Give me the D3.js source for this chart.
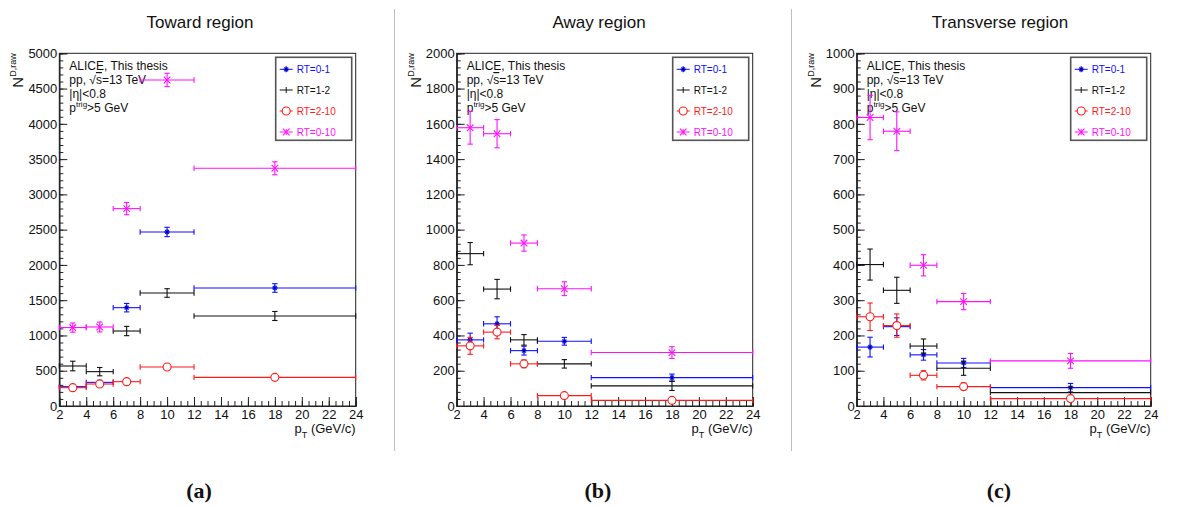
<!DOCTYPE html>
<html>
<head>
<meta charset="utf-8">
<script src="https://cdn.jsdelivr.net/npm/d3@7"></script>
<style>
  html, body { margin: 0; padding: 0; background: #fff; }
  svg { display: block; }
  text { font-family: "Liberation Sans", Arial, Helvetica, sans-serif; }
</style>
</head>
<body>
<svg id="chart" width="1184" height="506"></svg>
<script>
// pT bins (GeV/c)
const binLow = [2, 4, 6, 8, 12];
const binHigh = [4, 6, 8, 12, 24];
const binCenter = [3, 5, 7, 10, 18];

const xTicks = [2, 4, 6, 8, 10, 12, 14, 16, 18, 20, 22, 24];

const seriesNames = ["RT=0-1", "RT=1-2", "RT=2-10", "RT=0-10"];
const seriesColors = ["#1010ff", "#111111", "#ff1a1a", "#ff10ff"];
const seriesMarkers = ["star", "none", "circle", "cross"];

// Toward region
const towardRT01 = [274, 335, 1394, 2467, 1673];
const towardRT01Err = [25, 30, 60, 66, 61];
const towardRT12 = [567, 487, 1063, 1602, 1276];
const towardRT12Err = [68, 59, 66, 61, 64];
const towardRT210 = [260, 312, 345, 553, 406];
const towardRT210Err = [22, 22, 20, 25, 20];
const towardRT010 = [1112, 1120, 2798, 4622, 3370];
const towardRT010Err = [65, 70, 87, 95, 92];

// Away region
const awayRT01 = [375, 466, 314, 367, 161];
const awayRT01Err = [38, 40, 25, 22, 20];
const awayRT12 = [864, 663, 375, 239, 114];
const awayRT12Err = [63, 55, 30, 24, 26];
const awayRT210 = [341, 419, 239, 59, 32];
const awayRT210Err = [48, 38, 22, 8, 6];
const awayRT010 = [1578, 1544, 924, 665, 303];
const awayRT010Err = [93, 80, 46, 39, 33];

// Transverse region
const transRT01 = [167, 225, 145, 122, 52];
const transRT01Err = [28, 25, 15, 13, 12];
const transRT12 = [401, 328, 170, 107, 38];
const transRT12Err = [44, 37, 20, 20, 16];
const transRT210 = [253, 228, 87, 55, 21];
const transRT210Err = [39, 33, 13, 10, 8];
const transRT010 = [818, 779, 399, 296, 128];
const transRT010Err = [63, 55, 30, 23, 21];

const panelTitles = ["Toward region", "Away region", "Transverse region"];
const panelCaptions = ["(a)", "(b)", "(c)"];
const yMax = [5000, 2000, 1000];
const yMajorStep = [500, 200, 100];

const panelValues = [
  [towardRT01, towardRT12, towardRT210, towardRT010],
  [awayRT01, awayRT12, awayRT210, awayRT010],
  [transRT01, transRT12, transRT210, transRT010]
];
const panelErrors = [
  [towardRT01Err, towardRT12Err, towardRT210Err, towardRT010Err],
  [awayRT01Err, awayRT12Err, awayRT210Err, awayRT010Err],
  [transRT01Err, transRT12Err, transRT210Err, transRT010Err]
];
const legendLabels = seriesNames;

// ---- layout ----
const frameLeft = [59.3, 456.7, 856.7];
const frameRight = [355.7, 752.7, 1150.7];
const frameTop = 53.3;
const frameBottom = 406;
const titleX = [200, 599, 1000];
const separators = [394.5, 791.5];

const svg = d3.select("#chart");

// thin separators between the sub-figures
separators.forEach(sx => {
  svg.append("line")
    .attr("x1", sx).attr("x2", sx).attr("y1", 9).attr("y2", 451)
    .attr("stroke", "#bdbdbd").attr("stroke-width", 1);
});

function drawMarker(g, type, cx, cy, color) {
  if (type === "star") {
    const r = 2.8;
    [[r, 0], [0, r], [r * 0.7, r * 0.7], [r * 0.7, -r * 0.7]].forEach(([dx, dy]) => {
      g.append("line").attr("x1", cx - dx).attr("x2", cx + dx)
        .attr("y1", cy - dy).attr("y2", cy + dy)
        .attr("stroke", color).attr("stroke-width", 1.2);
    });
    g.append("circle").attr("cx", cx).attr("cy", cy).attr("r", 1.3).attr("fill", "#00007a");
  } else if (type === "circle") {
    g.append("circle").attr("cx", cx).attr("cy", cy).attr("r", 4)
      .attr("fill", "#fff").attr("stroke", color).attr("stroke-width", 1.1);
  } else if (type === "cross") {
    const r = 3.3;
    g.append("line").attr("x1", cx - r).attr("x2", cx + r).attr("y1", cy - r).attr("y2", cy + r)
      .attr("stroke", color).attr("stroke-width", 1.1);
    g.append("line").attr("x1", cx - r).attr("x2", cx + r).attr("y1", cy + r).attr("y2", cy - r)
      .attr("stroke", color).attr("stroke-width", 1.1);
  }
}

panelTitles.forEach((title, p) => {
  const x = d3.scaleLinear().domain([2, 24]).range([frameLeft[p], frameRight[p]]);
  const y = d3.scaleLinear().domain([0, yMax[p]]).range([frameBottom, frameTop]);
  const g = svg.append("g");

  // title
  g.append("text").attr("x", titleX[p]).attr("y", 28)
    .attr("text-anchor", "middle").attr("font-size", 17).attr("fill", "#111")
    .text(title);

  // caption
  g.append("text").attr("x", titleX[p] - 1).attr("y", 498)
    .attr("text-anchor", "middle").attr("font-size", 22).attr("font-weight", "bold")
    .style("font-family", "'Liberation Serif', 'DejaVu Serif', serif")
    .attr("fill", "#111").text(panelCaptions[p]);

  // frame
  g.append("rect").attr("x", frameLeft[p]).attr("y", frameTop)
    .attr("width", frameRight[p] - frameLeft[p]).attr("height", frameBottom - frameTop)
    .attr("fill", "none").attr("stroke", "#222").attr("stroke-width", 1);

  // x axis (ticks pointing into the frame)
  const xMinor = d3.range(2, 24.001, 0.5);
  const xAxisMinor = d3.axisBottom(x).tickValues(xMinor).tickSize(-5).tickFormat("");
  const xAxisMajor = d3.axisBottom(x).tickValues(xTicks).tickSize(-9).tickPadding(4)
    .tickFormat(d3.format("d"));
  const gxm = g.append("g").attr("transform", `translate(0,${frameBottom})`).call(xAxisMinor);
  const gx = g.append("g").attr("transform", `translate(0,${frameBottom})`).call(xAxisMajor);
  [gxm, gx].forEach(a => {
    a.select(".domain").attr("stroke", "#222");
    a.selectAll(".tick line").attr("stroke", "#222");
  });
  gx.selectAll(".tick text").attr("font-size", 13).attr("fill", "#111")
    .attr("font-family", "'Liberation Sans', Arial, sans-serif");

  // y axis
  const yMinorStep = yMajorStep[p] / 5;
  const yMinor = d3.range(0, yMax[p] + 0.001, yMinorStep);
  const yMajor = d3.range(0, yMax[p] + 0.001, yMajorStep[p]);
  const yAxisMinor = d3.axisLeft(y).tickValues(yMinor).tickSize(-4).tickFormat("");
  const yAxisMajor = d3.axisLeft(y).tickValues(yMajor).tickSize(-8).tickPadding(2)
    .tickFormat(d3.format("d"));
  const gym = g.append("g").attr("transform", `translate(${frameLeft[p]},0)`).call(yAxisMinor);
  const gy = g.append("g").attr("transform", `translate(${frameLeft[p]},0)`).call(yAxisMajor);
  [gym, gy].forEach(a => {
    a.select(".domain").attr("stroke", "#222");
    a.selectAll(".tick line").attr("stroke", "#222");
  });
  gy.selectAll(".tick text").attr("font-size", 13).attr("fill", "#111")
    .attr("font-family", "'Liberation Sans', Arial, sans-serif");

  // x axis title
  const xt = g.append("text").attr("x", frameRight[p]).attr("y", 433)
    .attr("text-anchor", "end").attr("font-size", 13).attr("fill", "#111");
  xt.append("tspan").text("p");
  xt.append("tspan").attr("font-size", 9).attr("dy", 5).text("T");
  xt.append("tspan").attr("dy", -5).text(" (GeV/c)");

  // y axis title
  const yt = g.append("text")
    .attr("transform", `translate(${frameLeft[p] - 36},${frameTop}) rotate(-90)`)
    .attr("text-anchor", "end").attr("font-size", 15).attr("fill", "#111");
  yt.append("tspan").text("N");
  yt.append("tspan").attr("font-size", 9).attr("dy", -7).text("D,raw");

  // label block
  const tx = frameLeft[p] + 10;
  const lines = [70, 84, 98, 112];
  g.append("text").attr("x", tx).attr("y", lines[0]).attr("font-size", 12).attr("fill", "#111")
    .text("ALICE, This thesis");
  const l2 = g.append("text").attr("x", tx).attr("y", lines[1]).attr("font-size", 12).attr("fill", "#111");
  l2.append("tspan").text("pp, \u221A");
  l2.append("tspan").style("text-decoration", "overline").text("s");
  l2.append("tspan").text("=13 TeV");
  g.append("text").attr("x", tx).attr("y", lines[2]).attr("font-size", 12).attr("fill", "#111")
    .text("|\u03B7|<0.8");
  const l4 = g.append("text").attr("x", tx).attr("y", lines[3]).attr("font-size", 12).attr("fill", "#111");
  l4.append("tspan").text("p");
  l4.append("tspan").attr("font-size", 8).attr("dy", -5).text("trig");
  l4.append("tspan").attr("dy", 5).text(">5 GeV");

  // data: horizontal bin-width bars and vertical error bars with end caps
  const cap = 2.7;
  panelValues[p].forEach((vals, s) => {
    const color = seriesColors[s];
    const sg = g.append("g");
    vals.forEach((v, i) => {
      const cx = x(binCenter[i]);
      const cy = y(v);
      const xl = x(binLow[i]), xr = x(binHigh[i]);
      const yt2 = y(v + panelErrors[p][s][i]), yb = y(v - panelErrors[p][s][i]);
      sg.append("line").attr("x1", xl).attr("x2", xr).attr("y1", cy).attr("y2", cy)
        .attr("stroke", color).attr("stroke-width", 1.1);
      sg.append("line").attr("x1", xl).attr("x2", xl).attr("y1", cy - cap).attr("y2", cy + cap)
        .attr("stroke", color).attr("stroke-width", 1.1);
      sg.append("line").attr("x1", xr).attr("x2", xr).attr("y1", cy - cap).attr("y2", cy + cap)
        .attr("stroke", color).attr("stroke-width", 1.1);
      sg.append("line").attr("x1", cx).attr("x2", cx).attr("y1", yt2).attr("y2", yb)
        .attr("stroke", color).attr("stroke-width", 1.1);
      sg.append("line").attr("x1", cx - cap).attr("x2", cx + cap).attr("y1", yt2).attr("y2", yt2)
        .attr("stroke", color).attr("stroke-width", 1.1);
      sg.append("line").attr("x1", cx - cap).attr("x2", cx + cap).attr("y1", yb).attr("y2", yb)
        .attr("stroke", color).attr("stroke-width", 1.1);
      drawMarker(sg, seriesMarkers[s], cx, cy, color);
    });
  });

  // legend
  const bx = frameRight[p] - 80, by = frameTop + 4, bw = 76, bh = 83;
  g.append("rect").attr("x", bx).attr("y", by).attr("width", bw).attr("height", bh)
    .attr("fill", "#fff").attr("stroke", "#555").attr("stroke-width", 1.6);
  const rowY = [16, 36.7, 57.7, 78.7];
  legendLabels.forEach((lab, s) => {
    const ly = frameTop + rowY[s];
    const color = seriesColors[s];
    const mx = bx + 10.5;
    g.append("line").attr("x1", bx + 4).attr("x2", bx + 17).attr("y1", ly).attr("y2", ly)
      .attr("stroke", color).attr("stroke-width", 1);
    g.append("line").attr("x1", mx).attr("x2", mx).attr("y1", ly - 3).attr("y2", ly + 3)
      .attr("stroke", color).attr("stroke-width", 1);
    drawMarker(g, seriesMarkers[s], mx, ly, color);
    g.append("text").attr("x", bx + 21).attr("y", ly + 3.5).attr("font-size", 10)
      .attr("fill", color).text(lab);
  });
});
</script>
</body>
</html>
